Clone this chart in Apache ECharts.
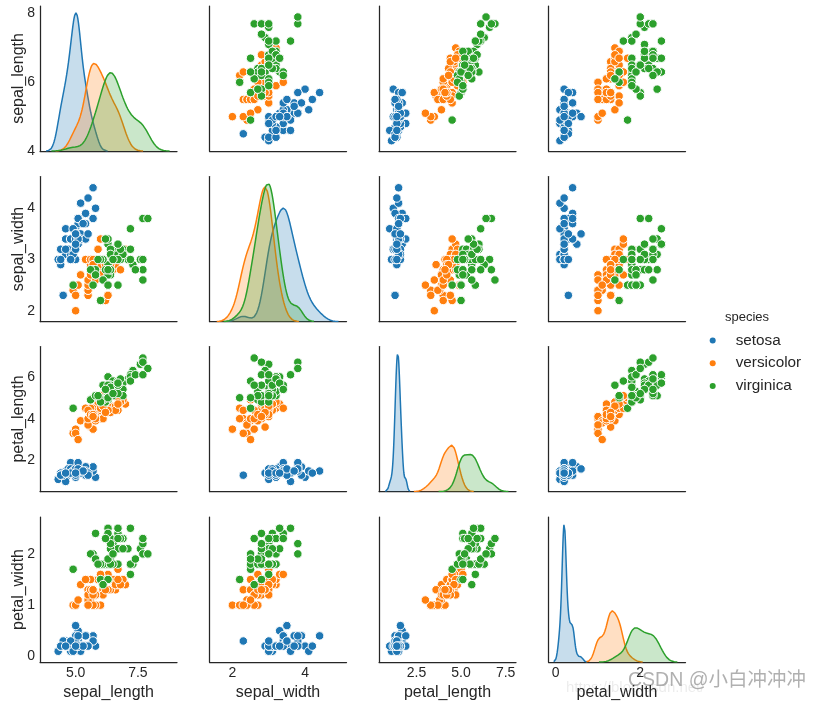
<!DOCTYPE html>
<html>
<head>
<meta charset="utf-8">
<script src="https://cdn.jsdelivr.net/npm/echarts@6/dist/echarts.min.js"></script>
<style>html,body{margin:0;padding:0;background:#fff}#c{width:818px;height:706px}</style>
</head>
<body>
<div id="c"></div>
<script>
// ---- data (iris, as plotted) ----
const species = ['setosa', 'versicolor', 'virginica'];
const variables = ['sepal_length', 'sepal_width', 'petal_length', 'petal_width'];

const setosaSepalLength = [5.1,4.9,4.7,4.6,5.0,5.4,4.6,5.0,4.4,4.9,5.4,4.8,4.8,4.3,5.8,5.7,5.4,5.1,5.7,5.1,5.4,5.1,4.6,5.1,4.8,5.0,5.0,5.2,5.2,4.7,4.8,5.4,5.2,5.5,4.9,5.0,5.5,4.9,4.4,5.1,5.0,4.5,4.4,5.0,5.1,4.8,5.1,4.6,5.3,5.0];
const setosaSepalWidth  = [3.5,3.0,3.2,3.1,3.6,3.9,3.4,3.4,2.9,3.1,3.7,3.4,3.0,3.0,4.0,4.4,3.9,3.5,3.8,3.8,3.4,3.7,3.6,3.3,3.4,3.0,3.4,3.5,3.4,3.2,3.1,3.4,4.1,4.2,3.1,3.2,3.5,3.6,3.0,3.4,3.5,2.3,3.2,3.5,3.8,3.0,3.8,3.2,3.7,3.3];
const setosaPetalLength = [1.4,1.4,1.3,1.5,1.4,1.7,1.4,1.5,1.4,1.5,1.5,1.6,1.4,1.1,1.2,1.5,1.3,1.4,1.7,1.5,1.7,1.5,1.0,1.7,1.9,1.6,1.6,1.5,1.4,1.6,1.6,1.5,1.5,1.4,1.5,1.2,1.3,1.4,1.3,1.5,1.3,1.3,1.3,1.6,1.9,1.4,1.6,1.4,1.5,1.4];
const setosaPetalWidth  = [0.2,0.2,0.2,0.2,0.2,0.4,0.3,0.2,0.2,0.1,0.2,0.2,0.1,0.1,0.2,0.4,0.4,0.3,0.3,0.3,0.2,0.4,0.2,0.5,0.2,0.2,0.4,0.2,0.2,0.2,0.2,0.4,0.1,0.2,0.2,0.2,0.2,0.1,0.2,0.2,0.3,0.3,0.2,0.6,0.4,0.3,0.2,0.2,0.2,0.2];

const versicolorSepalLength = [7.0,6.4,6.9,5.5,6.5,5.7,6.3,4.9,6.6,5.2,5.0,5.9,6.0,6.1,5.6,6.7,5.6,5.8,6.2,5.6,5.9,6.1,6.3,6.1,6.4,6.6,6.8,6.7,6.0,5.7,5.5,5.5,5.8,6.0,5.4,6.0,6.7,6.3,5.6,5.5,5.5,6.1,5.8,5.0,5.6,5.7,5.7,6.2,5.1,5.7];
const versicolorSepalWidth  = [3.2,3.2,3.1,2.3,2.8,2.8,3.3,2.4,2.9,2.7,2.0,3.0,2.2,2.9,2.9,3.1,3.0,2.7,2.2,2.5,3.2,2.8,2.5,2.8,2.9,3.0,2.8,3.0,2.9,2.6,2.4,2.4,2.7,2.7,3.0,3.4,3.1,2.3,3.0,2.5,2.6,3.0,2.6,2.3,2.7,3.0,2.9,2.9,2.5,2.8];
const versicolorPetalLength = [4.7,4.5,4.9,4.0,4.6,4.5,4.7,3.3,4.6,3.9,3.5,4.2,4.0,4.7,3.6,4.4,4.5,4.1,4.5,3.9,4.8,4.0,4.9,4.7,4.3,4.4,4.8,5.0,4.5,3.5,3.8,3.7,3.9,5.1,4.5,4.5,4.7,4.4,4.1,4.0,4.4,4.6,4.0,3.3,4.2,4.2,4.2,4.3,3.0,4.1];
const versicolorPetalWidth  = [1.4,1.5,1.5,1.3,1.5,1.3,1.6,1.0,1.3,1.4,1.0,1.5,1.0,1.4,1.3,1.4,1.5,1.0,1.5,1.1,1.8,1.3,1.5,1.2,1.3,1.4,1.4,1.7,1.5,1.0,1.1,1.0,1.2,1.6,1.5,1.6,1.5,1.3,1.3,1.3,1.2,1.4,1.2,1.0,1.3,1.2,1.3,1.3,1.1,1.3];

const virginicaSepalLength = [6.3,5.8,7.1,6.3,6.5,7.6,4.9,7.3,6.7,7.2,6.5,6.4,6.8,5.7,5.8,6.4,6.5,7.7,7.7,6.0,6.9,5.6,7.7,6.3,6.7,7.2,6.2,6.1,6.4,7.2,7.4,7.9,6.4,6.3,6.1,7.7,6.3,6.4,6.0,6.9,6.7,6.9,5.8,6.8,6.7,6.7,6.3,6.5,6.2,5.9];
const virginicaSepalWidth  = [3.3,2.7,3.0,2.9,3.0,3.0,2.5,2.9,2.5,3.6,3.2,2.7,3.0,2.5,2.8,3.2,3.0,3.8,2.6,2.2,3.2,2.8,2.8,2.7,3.3,3.2,2.8,3.0,2.8,3.0,2.8,3.8,2.8,2.8,2.6,3.0,3.4,3.1,3.0,3.1,3.1,3.1,2.7,3.2,3.3,3.0,2.5,3.0,3.4,3.0];
const virginicaPetalLength = [6.0,5.1,5.9,5.6,5.8,6.6,4.5,6.3,5.8,6.1,5.1,5.3,5.5,5.0,5.1,5.3,5.5,6.7,6.9,5.0,5.7,4.9,6.7,4.9,5.7,6.0,4.8,4.9,5.6,5.8,6.1,6.4,5.6,5.1,5.6,6.1,5.6,5.5,4.8,5.4,5.6,5.1,5.1,5.9,5.7,5.2,5.0,5.2,5.4,5.1];
const virginicaPetalWidth  = [2.5,1.9,2.1,1.8,2.2,2.1,1.7,1.8,1.8,2.5,2.0,1.9,2.1,2.0,2.4,2.3,1.8,2.2,2.3,1.5,2.3,2.0,2.0,1.8,2.1,1.8,1.8,1.8,2.1,1.6,1.9,2.0,2.2,1.5,1.4,2.3,2.4,1.8,1.8,2.1,2.4,2.3,1.9,2.3,2.5,2.3,1.9,2.0,2.3,1.8];

// tick labels
const rowTickLabels = [['4','6','8'], ['2','3','4'], ['2','4','6'], ['0','1','2']];
const colTickLabels = [['5.0','7.5'], ['2','4'], ['2.5','5.0','7.5'], ['0','2']];

// ---- layout / style ----
const colors = ['#1f77b4', '#ff7f0e', '#2ca02c'];
const ink = '#262626';
const colLeft = [40, 209.5, 379, 548.5];
const rowTop = [6, 176.5, 346.5, 517];
const cellW = 137, cellH = 145;
const colRange = [[3.57, 9.07], [1.37, 5.14], [0.40, 8.08], [-0.17, 3.07]];
const rowRange = [[4.0, 8.22], [1.79, 4.62], [0.52, 7.45], [-0.11, 2.72]];

const table = {
  setosa: [setosaSepalLength, setosaSepalWidth, setosaPetalLength, setosaPetalWidth],
  versicolor: [versicolorSepalLength, versicolorSepalWidth, versicolorPetalLength, versicolorPetalWidth],
  virginica: [virginicaSepalLength, virginicaSepalWidth, virginicaPetalLength, virginicaPetalWidth]
};

// Gaussian kernel density estimate (Scott bandwidth, cut = 3, 100 points) of the data
function kde(vals) {
  const n = vals.length;
  const mean = vals.reduce((a, b) => a + b, 0) / n;
  const sd = Math.sqrt(vals.reduce((a, b) => a + (b - mean) * (b - mean), 0) / (n - 1));
  const bw = sd * Math.pow(n, -0.2);
  const lo = Math.min(...vals) - 3 * bw, hi = Math.max(...vals) + 3 * bw;
  const out = [];
  for (let k = 0; k < 100; k++) {
    const x = lo + (hi - lo) * k / 99;
    let s = 0;
    for (const v of vals) { const z = (x - v) / bw; s += Math.exp(-0.5 * z * z); }
    out.push([x, s / (n * bw * Math.sqrt(2 * Math.PI))]);
  }
  return out;
}

const fontFamily = '"Liberation Sans", Arial, sans-serif';
const grids = [], xAxes = [], yAxes = [], series = [];

for (let i = 0; i < 4; i++) {
  for (let j = 0; j < 4; j++) {
    const g = grids.length;
    grids.push({ left: colLeft[j], top: rowTop[i], width: cellW, height: cellH, containLabel: false });
    const xl = colTickLabels[j];
    xAxes.push({
      type: 'value', gridIndex: g, min: colRange[j][0], max: colRange[j][1],
      axisLine: { show: true, onZero: false, lineStyle: { color: ink, width: 1.25 } },
      axisTick: { show: false }, splitLine: { show: false },
      axisLabel: {
        show: i === 3, customValues: xl.map(Number), margin: 4,
        fontSize: 14, color: ink, fontFamily,
        formatter: v => { const f = xl.find(s => Math.abs(Number(s) - v) < 1e-6); return f === undefined ? '' : f; }
      },
      name: i === 3 ? variables[j] : '', nameLocation: 'middle', nameGap: 23, nameMoveOverlap: false,
      nameTextStyle: { fontSize: 16, color: ink, fontFamily }
    });
    const yl = rowTickLabels[i];
    const yIdx = yAxes.length;
    yAxes.push({
      type: 'value', gridIndex: g, min: rowRange[i][0], max: rowRange[i][1],
      axisLine: { show: true, onZero: false, lineStyle: { color: ink, width: 1.25 } },
      axisTick: { show: false }, splitLine: { show: false },
      axisLabel: {
        show: j === 0, customValues: yl.map(Number), margin: 5,
        fontSize: 14, color: ink, fontFamily,
        formatter: v => { const f = yl.find(s => Math.abs(Number(s) - v) < 1e-6); return f === undefined ? '' : f; }
      },
      name: j === 0 ? variables[i] : '', nameLocation: 'middle', nameGap: 13, nameMoveOverlap: false,
      nameTextStyle: { fontSize: 16, color: ink, fontFamily }
    });
    if (i === j) {
      const curves = species.map(s => kde(table[s][j]));
      let mx = 0;
      curves.forEach(c => c.forEach(p => { if (p[1] > mx) mx = p[1]; }));
      const dIdx = yAxes.length;
      yAxes.push({ type: 'value', gridIndex: g, min: 0, max: mx * 1.05, show: false, splitLine: { show: false } });
      curves.forEach((c, k) => {
        series.push({
          type: 'line', name: species[k], xAxisIndex: g, yAxisIndex: dIdx, data: c,
          showSymbol: false, symbol: 'none', smooth: false, silent: true,
          lineStyle: { color: colors[k], width: 1.5 },
          itemStyle: { color: colors[k] },
          areaStyle: { color: colors[k], opacity: 0.25 }, z: 2 + k
        });
      });
    } else {
      species.forEach((s, k) => {
        const xs = table[s][j], ys = table[s][i];
        series.push({
          type: 'scatter', name: s, xAxisIndex: g, yAxisIndex: yIdx,
          data: xs.map((x, n) => [x, ys[n]]),
          symbol: 'circle', symbolSize: 8.5, silent: true,
          itemStyle: { color: colors[k], borderColor: '#ffffff', borderWidth: 1, opacity: 1 },
          z: 2 + k
        });
      });
    }
  }
}

const chart = echarts.init(document.getElementById('c'), null, { renderer: 'canvas' });
chart.setOption({
  animation: false,
  backgroundColor: '#ffffff',
  textStyle: { fontFamily },
  grid: grids, xAxis: xAxes, yAxis: yAxes, series,
  legend: {
    orient: 'vertical', left: 704.7, top: 326.5,
    itemWidth: 6, itemHeight: 6, itemGap: 4.7, icon: 'circle', selectedMode: false,
    textStyle: { fontSize: 15.3, color: ink, fontFamily, lineHeight: 18, padding: [0, 0, 0, 15] },
    data: species.map((s, k) => ({ name: s, icon: 'circle', itemStyle: { color: colors[k], borderWidth: 0 } }))
  },
  graphic: [
    { type: 'text', left: 725, top: 311, style: { text: 'species', fontSize: 13, fill: ink, fontFamily } },
    { type: 'text', left: 566, top: 680, style: { text: 'https://blog.csdn.net/', fontSize: 15, fill: 'rgba(0,0,0,0.08)', fontFamily } },
    { type: 'text', left: 628, top: 671, style: { text: 'CSDN @小白冲冲冲', fontSize: 19.5, fill: 'rgba(150,150,150,0.75)', fontFamily: '"Liberation Sans", "Noto Sans CJK SC", sans-serif' } }
  ]
});
</script>
</body>
</html>
